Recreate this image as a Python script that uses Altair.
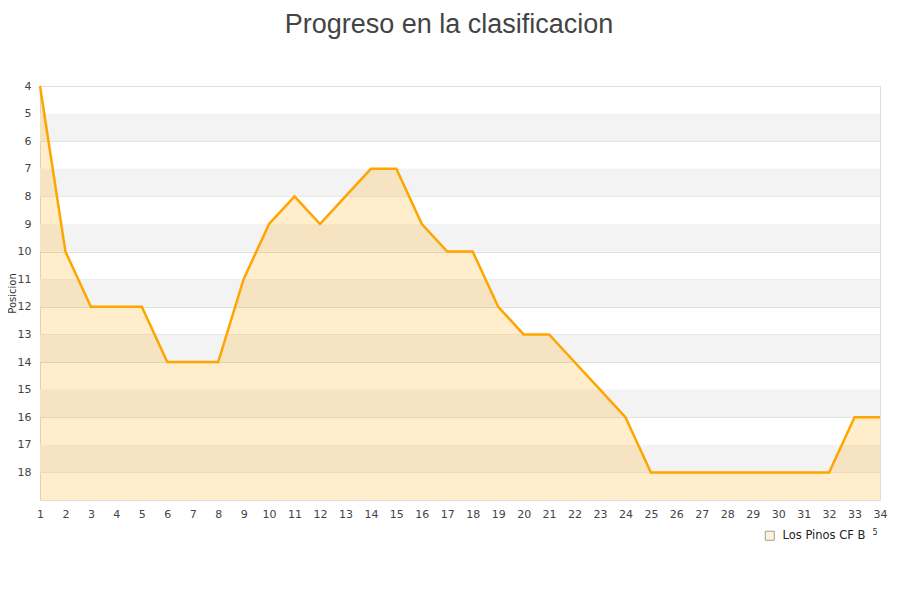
import altair as alt
import pandas as pd

jornadas = list(range(1, 35))
posicion = [4, 10, 12, 12, 12, 14, 14, 14, 11, 9, 8, 9, 8, 7, 7, 9, 10, 10,
            12, 13, 13, 14, 15, 16, 18, 18, 18, 18, 18, 18, 18, 18, 16, 16]
equipo = "Los Pinos CF B"
band_start = [5, 7, 9, 11, 13, 15, 17]
fondo = 19

df = pd.DataFrame({"jornada": jornadas, "posicion": posicion, "fondo": fondo})
bands = pd.DataFrame({"y": band_start, "y2": [b + 1 for b in band_start]})
leyenda = pd.DataFrame({"jornada": [0], "posicion": [fondo], "equipo": [equipo]})

x_scale = alt.Scale(domain=[1, 34], nice=False, zero=False)
y_scale = alt.Scale(domain=[4, 19], reverse=True, nice=False, zero=False)

x_axis = alt.Axis(values=jornadas, title=None, grid=False, ticks=False, domain=False,
                  labelFont="DejaVu Sans", labelFontSize=11, labelColor="#444",
                  labelPadding=8, labelFlush=False, labelOverlap=False)
y_axis = alt.Axis(values=list(range(4, 19)), title="Posicion", grid=True, gridColor="#dddddd",
                  ticks=False, domain=False, labelFont="DejaVu Sans", labelFontSize=11,
                  labelColor="#444", labelPadding=9, labelOverlap=False,
                  titleFont="DejaVu Sans", titleFontSize=10,
                  titleFontWeight="normal", titleColor="#333", titleX=-28, titleY=207,
                  titleAngle=-90, titleAlign="center", titleBaseline="middle")

X = alt.X("jornada:Q", scale=x_scale, axis=x_axis)
Y = alt.Y("posicion:Q", scale=y_scale, axis=y_axis)

band = alt.Chart(bands).mark_rect(color="#f3f3f3").encode(
    y=alt.Y("y:Q", scale=y_scale, axis=y_axis),
    y2="y2:Q",
    x=alt.value(0),
    x2=alt.value(840),
)

area = alt.Chart(df).mark_area(color="#FFA500", fillOpacity=0.2, line=False).encode(
    x=X, y=Y, y2="fondo:Q",
)

line = alt.Chart(df).mark_line(color="#FFA500", strokeWidth=2.5).encode(x=X, y=Y)

key = alt.Chart(leyenda).mark_square(clip=True, filled=True, size=81).encode(
    x=X,
    y=Y,
    fill=alt.Fill("equipo:N", scale=alt.Scale(range=["#FFEDCC"]),
                  legend=alt.Legend(title=None, orient="none", legendX=724, legendY=444,
                                    symbolType="square", symbolSize=81,
                                    symbolStrokeColor="#777777", symbolStrokeWidth=1,
                                    labelFont="DejaVu Sans", labelFontSize=11.5,
                                    labelOffset=7, labelColor="#222", padding=0)),
)

# stray small "5" next to the legend in the original
stray = alt.Chart(pd.DataFrame({"t": ["5"]})).mark_text(
    fontSize=8, font="DejaVu Sans", color="#333", align="center"
).encode(text="t:N", x=alt.value(835), y=alt.value(447))

chart = alt.layer(band, area, line, key, stray).properties(
    width=840,
    height=414,
    title=alt.TitleParams("Progreso en la clasificacion", font="Liberation Sans", fontSize=27,
                          fontWeight="normal", color="#444", anchor="middle",
                          baseline="bottom", offset=14, dx=-11),
    autosize=alt.AutoSizeParams(type="none"),
    padding={"left": 32, "top": 78, "right": 12, "bottom": 90},
).configure_view(stroke="#dddddd")

chart.save("out.html", embed_options={"renderer": "svg", "actions": False})
